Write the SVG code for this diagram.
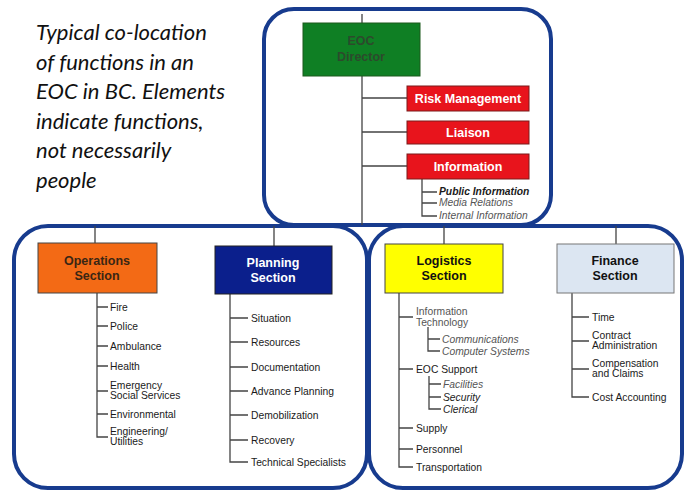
<svg xmlns="http://www.w3.org/2000/svg" width="684" height="493" viewBox="0 0 684 493">
<style>
.frame{fill:none;stroke:#173b8e;stroke-width:4}
.ln{stroke:#444;stroke-width:1.3;fill:none}
.cap{font-family:Lato,"Open Sans",sans-serif;font-style:italic;font-size:22px;fill:#111}
.t{font-family:"Liberation Sans",Arial,sans-serif;font-size:10.3px;fill:#1a1a1a}
.g{fill:#555}
.i{font-style:italic}
.hd{font-family:"Liberation Sans",Arial,sans-serif;font-weight:bold;font-size:12.5px;text-anchor:middle}
</style>
<rect width="684" height="493" fill="#fff"/>
<g id="caption">
<text class="cap" x="36" y="40">Typical co-location</text>
<text class="cap" x="36" y="69.5">of functions in an</text>
<text class="cap" x="36" y="99">EOC in BC. Elements</text>
<text class="cap" x="36" y="128.5">indicate functions,</text>
<text class="cap" x="36" y="158">not necessarily</text>
<text class="cap" x="36" y="187.5">people</text>
</g>
<g id="frames">
<rect class="frame" x="264" y="9" width="287" height="216" rx="30"/>
<rect class="frame" x="14" y="226" width="353" height="262" rx="34"/>
<rect class="frame" x="369" y="226" width="313" height="262" rx="34"/>
</g>
<g id="connectors">
<path class="ln" d="M362 14V225M362 98H407M362 132H407M362 166H407"/>
<path class="ln" d="M422 179V216H437M422 192H437M422 203H437"/>
<path class="ln" d="M95 226V243M274 226V246M444 226V244M616 226V244"/>
<path class="ln" d="M97 293V437H108M97 307H108M97 326H108M97 346H108M97 366H108M97 391H108M97 414H108"/>
<path class="ln" d="M230 294V462H248M230 318H248M230 342H248M230 367H248M230 391H248M230 415H248M230 440H248"/>
<path class="ln" d="M399 293V467H413M399 317H413M399 369H413M399 428H413M399 449H413"/>
<path class="ln" d="M428 327V351H440M428 339H440"/>
<path class="ln" d="M429 376V409H441M429 384H441M429 397H441"/>
<path class="ln" d="M572 293V397H589M572 317H589M572 341H589M572 369H589"/>
</g>
<g id="director">
<rect x="303" y="23" width="117" height="53" fill="#0f7f24" stroke="#1d5a1d" stroke-width="1"/>
<text class="hd" x="361" y="45" fill="#2c4a2c">EOC</text>
<text class="hd" x="361" y="61" fill="#2c4a2c">Director</text>
</g>
<g id="risk">
<rect x="407" y="86" width="122" height="25" fill="#e8141c" stroke="#7a1a1a" stroke-width="1"/>
<text class="hd" x="468" y="103" fill="#fff">Risk Management</text>
</g>
<g id="liaison">
<rect x="407" y="121" width="122" height="23" fill="#e8141c" stroke="#7a1a1a" stroke-width="1"/>
<text class="hd" x="468" y="137" fill="#fff">Liaison</text>
</g>
<g id="information">
<rect x="407" y="154" width="122" height="25" fill="#e8141c" stroke="#7a1a1a" stroke-width="1"/>
<text class="hd" x="468" y="171" fill="#fff">Information</text>
<text class="t i" x="439" y="195" style="font-weight:bold">Public Information</text>
<text class="t i g" x="439" y="206">Media Relations</text>
<text class="t i g" x="439" y="219">Internal Information</text>
</g>
<g id="operations">
<rect x="38" y="243" width="119" height="50" fill="#f36a15" stroke="#444" stroke-width="1"/>
<text class="hd" x="97" y="265" fill="#3a2614">Operations</text>
<text class="hd" x="97" y="280" fill="#3a2614">Section</text>
<text class="t" x="110" y="311">Fire</text>
<text class="t" x="110" y="330">Police</text>
<text class="t" x="110" y="350">Ambulance</text>
<text class="t" x="110" y="370" fill="#000">Health</text>
<text class="t" x="110" y="389">Emergency</text>
<text class="t" x="110" y="399">Social Services</text>
<text class="t" x="110" y="418">Environmental</text>
<text class="t" x="110" y="435">Engineering/</text>
<text class="t" x="110" y="445">Utilities</text>
</g>
<g id="planning">
<rect x="215" y="246" width="117" height="48" fill="#0b1f8c" stroke="#222" stroke-width="1"/>
<text class="hd" x="273" y="267" fill="#fff">Planning</text>
<text class="hd" x="273" y="282" fill="#fff">Section</text>
<text class="t" x="251" y="322">Situation</text>
<text class="t" x="251" y="346">Resources</text>
<text class="t" x="251" y="371">Documentation</text>
<text class="t" x="251" y="395">Advance Planning</text>
<text class="t" x="251" y="419">Demobilization</text>
<text class="t" x="251" y="444">Recovery</text>
<text class="t" x="251" y="466">Technical Specialists</text>
</g>
<g id="logistics">
<rect x="385" y="244" width="118" height="49" fill="#ffff00" stroke="#444" stroke-width="1"/>
<text class="hd" x="444" y="265" fill="#111">Logistics</text>
<text class="hd" x="444" y="280" fill="#111">Section</text>
<text class="t g" x="416" y="315">Information</text>
<text class="t g" x="416" y="326">Technology</text>
<text class="t i g" x="442" y="343">Communications</text>
<text class="t i g" x="442" y="355">Computer Systems</text>
<text class="t" x="416" y="373" fill="#000">EOC Support</text>
<text class="t i g" x="443" y="388">Facilities</text>
<text class="t i" x="443" y="401" fill="#000">Security</text>
<text class="t i" x="443" y="413" fill="#000">Clerical</text>
<text class="t" x="416" y="432">Supply</text>
<text class="t" x="416" y="453">Personnel</text>
<text class="t" x="416" y="471">Transportation</text>
</g>
<g id="finance">
<rect x="557" y="244" width="117" height="49" fill="#dce6f2" stroke="#777" stroke-width="1"/>
<text class="hd" x="615" y="265" fill="#111">Finance</text>
<text class="hd" x="615" y="280" fill="#111">Section</text>
<text class="t" x="592" y="321">Time</text>
<text class="t" x="592" y="339" fill="#000">Contract</text>
<text class="t" x="592" y="349" fill="#000">Administration</text>
<text class="t" x="592" y="367">Compensation</text>
<text class="t" x="592" y="377">and Claims</text>
<text class="t" x="592" y="401">Cost Accounting</text>
</g>
</svg>
